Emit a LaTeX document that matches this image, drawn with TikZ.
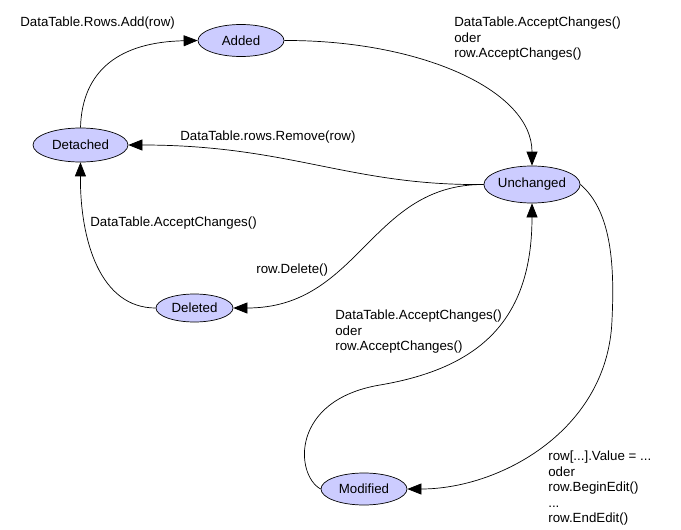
\documentclass[tikz,border=0pt]{standalone}
\usepackage{fontspec}
\setmainfont{Liberation Sans}
\usetikzlibrary{arrows.meta,shapes.geometric}
\definecolor{statefill}{RGB}{204,204,255}

\begin{document}
\begin{tikzpicture}[x=1pt, y=-1pt, line width=0.7pt, >={Triangle[length=14pt,width=11pt]},
every node/.style={font=\fontsize{13.3}{15.5}\selectfont},
state/.style={ellipse, draw, line width=0.7pt, fill=statefill, inner sep=0pt},
lbl/.style={inner sep=0pt, align=left}
]
\useasboundingbox (0,0) rectangle (681,530);

% states
\node (add) [state, minimum width=86pt, minimum height=32pt] at (241,40.5) {Added};
\node (det) [state, minimum width=95pt, minimum height=34pt] at (80.5,145) {Detached};
\node (unch) [state, minimum width=88pt, minimum height=37pt] at (532,184.5) {Unchanged};
\node (del) [state, minimum width=77pt, minimum height=28pt] at (194.5,308) {Deleted};
\node (mod) [state, minimum width=86pt, minimum height=32pt] at (364,489) {Modified};

% labels
\node (lAdd) [lbl, anchor=base west] at (20,27) {DataTable.Rows.Add(row)};
\node (lAccA) [lbl, anchor=north west] at (454,17) {DataTable.AcceptChanges()\\oder\\row.AcceptChanges()};
\node (lRem) [lbl, anchor=base west] at (180,140) {DataTable.rows.Remove(row)};
\node (lAccB) [lbl, anchor=base west] at (90,226) {DataTable.AcceptChanges()};
\node (lDel) [lbl, anchor=base west] at (256,273) {row.Delete()};
\node (lAccC) [lbl, anchor=north west] at (335,310) {DataTable.AcceptChanges()\\oder\\row.AcceptChanges()};
\node (lEdit) [lbl, anchor=north west] at (548,451) {row[...].Value = ...\\oder\\row.BeginEdit()\\...\\row.EndEdit()};

% transitions
\draw[->] (det.north) .. controls (82,70) and (120,42) .. (add.west);
\draw[->] (add.east) .. controls (420,40) and (532,90) .. (unch.north);
\draw[->] (unch.west) .. controls (350,186) and (290,145) .. (det.east);
\draw[->] (unch.west) .. controls (370,184) and (360,308) .. (del.east);
\draw[->] (del.west) .. controls (100,308) and (80,240) .. (det.south);
\draw[->] (unch.east) .. controls (610,210) and (615,260) .. (612,320)
  .. controls (608,430) and (500,489) .. (mod.east);
\draw[->] (mod.west) .. controls (295,475) and (290,400) .. (380,385)
  .. controls (480,368) and (532,320) .. (unch.south);

\end{tikzpicture}
\end{document}
